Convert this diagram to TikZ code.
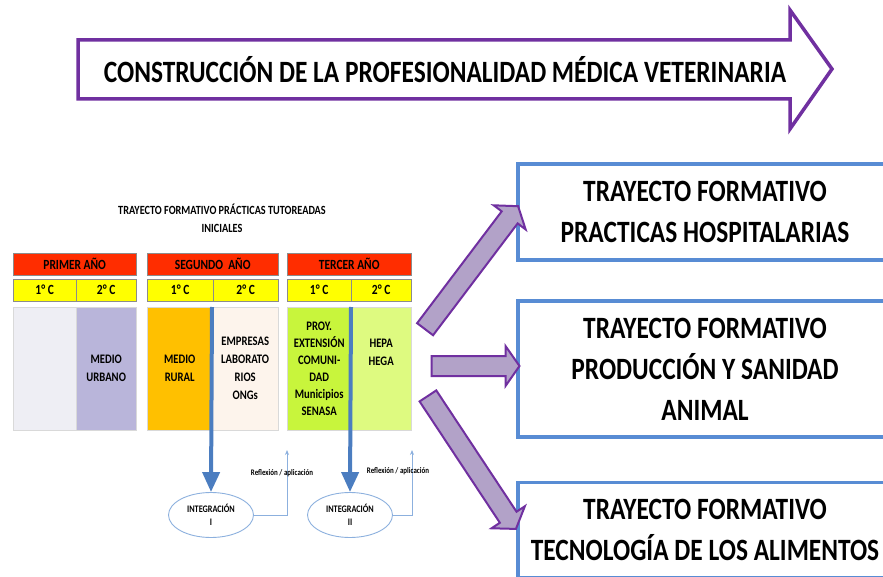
\documentclass[tikz,border=0pt]{standalone}
\usepackage{fontspec}
\setmainfont{Carlito}[FakeStretch=0.82]
\usetikzlibrary{shapes.arrows,shapes.geometric,arrows.meta,calc}
\definecolor{hdred}{RGB}{255,45,0}
\definecolor{hdyellow}{RGB}{255,255,0}
\definecolor{cgray}{RGB}{238,238,244}
\definecolor{clav}{RGB}{185,181,218}
\definecolor{corange}{RGB}{255,192,0}
\definecolor{ccream}{RGB}{253,244,236}
\definecolor{clime}{RGB}{200,245,60}
\definecolor{clight}{RGB}{222,250,128}
\definecolor{ablue}{RGB}{75,125,192}
\definecolor{lblue}{RGB}{140,176,222}
\definecolor{bblue}{RGB}{88,140,212}
\definecolor{vpurple}{RGB}{112,48,160}
\definecolor{vfill}{RGB}{178,162,200}
\tikzset{
  bar/.style={draw=black!45, line width=0.4pt, anchor=north west, inner sep=0pt,
    minimum height=22pt, font=\fontsize{14}{16}\selectfont\bfseries},
  cell/.style={draw=black!15, anchor=north west, inner sep=0pt, minimum height=123pt,
    align=center, font=\fontsize{13}{18}\selectfont\bfseries},
  integ/.style={ellipse, draw=lblue, line width=0.9pt, fill=white, minimum width=85pt,
    minimum height=45pt, inner sep=0pt, align=center, font=\fontsize{10}{13}\selectfont\bfseries},
  bajada/.style={draw=ablue, line width=4pt, -{Triangle[width=17pt,length=20pt]}},
  refl/.style={draw=lblue, line width=0.8pt, -{Stealth[width=4pt,length=5pt]}},
  refltext/.style={font=\fontsize{8.5}{10}\selectfont\bfseries},
  trbox/.style={draw=bblue, line width=3.5pt, fill=white, minimum width=374pt, align=center,
    font=\fontsize{31}{41}\selectfont\bfseries},
  salida/.style={single arrow, draw=vpurple, fill=vfill, line width=2pt, inner xsep=0pt,
    inner ysep=9pt, minimum width=38pt, single arrow head extend=10pt, single arrow tip angle=110}
}
\begin{document}
\begin{tikzpicture}[x=1pt,y=-1pt]
  \useasboundingbox (0,0) rectangle (883,577);
  \clip (0,0) rectangle (883,577);
  % flecha superior
  \draw[vpurple, line width=3.5pt, fill=white, line join=miter]
    (78,40) -- (790,40) -- (790,10) -- (832,69) -- (790,129) -- (790,99) -- (78,99) -- cycle;
  \node[font=\fontsize{31}{33}\selectfont\bfseries] (titulo) at (445,70)
    {CONSTRUCCIÓN DE LA PROFESIONALIDAD MÉDICA VETERINARIA};

  \node[align=center, font=\fontsize{12.5}{18}\selectfont\bfseries] (trayecto) at (222,218)
    {TRAYECTO FORMATIVO PRÁCTICAS TUTOREADAS\\INICIALES};

  % años
  \node[bar, fill=hdred, minimum width=123pt] (anio1) at (13,253) {PRIMER AÑO};
  \node[bar, fill=hdred, minimum width=131pt] (anio2) at (147,253) {SEGUNDO\ \ AÑO};
  \node[bar, fill=hdred, minimum width=124pt] (anio3) at (287,253) {TERCER AÑO};
  % cuatrimestres
  \node[bar, fill=hdyellow, minimum width=63pt] (c11) at (13,279) {1° C};
  \node[bar, fill=hdyellow, minimum width=60pt] (c12) at (76,279) {2° C};
  \node[bar, fill=hdyellow, minimum width=66pt] (c21) at (147,279) {1° C};
  \node[bar, fill=hdyellow, minimum width=65pt] (c22) at (213,279) {2° C};
  \node[bar, fill=hdyellow, minimum width=64pt] (c31) at (287,279) {1° C};
  \node[bar, fill=hdyellow, minimum width=60pt] (c32) at (351,279) {2° C};
  % practicas
  \node[cell, fill=cgray, minimum width=63pt] (p11) at (13,307) {};
  \node[cell, fill=clav, minimum width=60pt] (p12) at (76,307) {MEDIO\\URBANO};
  \node[cell, fill=corange, minimum width=65pt] (p21) at (147,307) {MEDIO\\RURAL};
  \node[cell, fill=ccream, minimum width=66pt] (p22) at (212,307) {EMPRESAS\\LABORATO\\RIOS\\ONGs};
  \node[cell, fill=clime, minimum width=64pt, font=\fontsize{13}{17}\selectfont\bfseries] (p31) at (287,307)
    {PROY.\\EXTENSIÓN\\COMUNI-\\DAD\\Municipios\\SENASA};
  \node[cell, fill=clight, minimum width=60pt] (p32) at (351,307) {HEPA\\HEGA\\[14pt]};

  % integraciones
  \node[integ] (int1) at (211,515) {INTEGRACIÓN\\I};
  \node[integ] (int2) at (350,515) {INTEGRACIÓN\\II};
  \draw[bajada] (p22.north west) -- (int1.north);
  \draw[bajada] (p32.north west) -- (int2.north);
  \coordinate (r1) at (287,450);
  \coordinate (r2) at (412,450);
  \draw[refl] (int1.east) -| (r1);
  \draw[refl] (int2.east) -| (r2);
  \node[refltext] (lr1) at (282,473) {Reflexión / aplicación};
  \node[refltext] (lr2) at (398,471) {Reflexión / aplicación};

  % trayectos
  \node[trbox, minimum height=96pt] (hosp) at (705,212) {TRAYECTO FORMATIVO\\PRACTICAS HOSPITALARIAS};
  \node[trbox, minimum height=136pt] (prod) at (705,369) {TRAYECTO FORMATIVO\\PRODUCCIÓN Y SANIDAD\\ANIMAL};
  \node[trbox, minimum height=95pt] (tecno) at (705,530) {TRAYECTO FORMATIVO\\TECNOLOGÍA DE LOS ALIMENTOS};

  \coordinate (s1) at (423,332);
  \coordinate (e1) at (516,209);
  \coordinate (s2) at (428,366);
  \coordinate (e2) at (516,366);
  \coordinate (s3) at (426,393);
  \coordinate (e3) at (514,526);
  \foreach \a/\b in {s1/e1,s2/e2,s3/e3}
    \path let \p1=($(\b)-(\a)$), \n1={veclen(\x1,\y1)}, \n2={atan2(\y1,\x1)} in
      node[salida, minimum height=\n1, rotate=\n2] at ($(\a)!0.5!(\b)$) {};
\end{tikzpicture}
\end{document}
